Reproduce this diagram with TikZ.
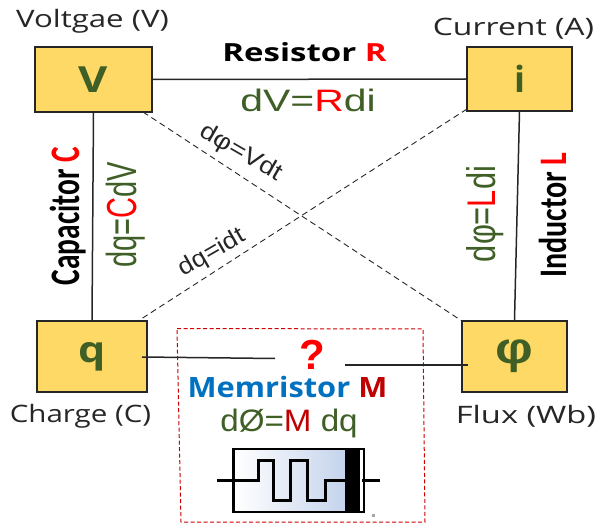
\documentclass[tikz,border=0pt]{standalone}
\usepackage{fontspec}
\setmainfont{Open Sans}
\newfontfamily\lib{Liberation Sans}
\newfontfamily\car{Carlito}
\usetikzlibrary{calc}
\definecolor{boxy}{HTML}{FFD966}
\definecolor{grn}{HTML}{3F5F26}
\definecolor{bluem}{HTML}{0070C0}
\definecolor{redm}{HTML}{C00000}
\definecolor{edge}{HTML}{262626}
\definecolor{peri}{HTML}{C4D3EC}
\newcommand\sx[2]{\scalebox{#1}[1]{#2}}
\tikzset{
  qty/.style={draw=edge,line width=1.3pt,fill=boxy,inner sep=0pt,text=grn,font=\fontsize{36}{36}\selectfont\bfseries},
  wire/.style={draw=edge,line width=1.5pt},
  dash line/.style={draw=edge,line width=0.9pt,dash pattern=on 6pt off 4pt},
  cap label/.style={inner sep=0pt,font=\fontsize{24}{24}\selectfont,text=black!85},
  head/.style={inner sep=0pt,font=\bfseries\fontsize{25}{25}\selectfont},
  law/.style={inner sep=0pt,text=grn,font=\lib\fontsize{31}{31}\selectfont},
  cross/.style={inner sep=0pt,font=\lib\fontsize{24}{24}\selectfont,text=black!85},
  symb/.style={line width=3pt,black,line join=miter}
}
\begin{document}
\begin{tikzpicture}[x=1pt,y=-1pt]
\useasboundingbox (0,0) rectangle (598,524);
% quantity boxes
\node[qty,minimum width=117pt,minimum height=65pt] (V) at (93.5,79.5) {\sx{1.25}{V}};
\node[qty,minimum width=105pt,minimum height=64pt] (i) at (519.5,79) {i};
\node[qty,minimum width=110pt,minimum height=71pt] (q) at (92,356.5) {\raisebox{-9pt}{\sx{1.2}{q}}};
\node[qty,minimum width=105pt,minimum height=71pt] (f) at (514.5,356.5) {\raisebox{-9pt}{\sx{1.2}{\fontsize{44}{44}\selectfont\lib\bfseries φ}}};
% box captions
\node[cap label] (lv) at (92.5,21) {\sx{1.3}{Voltgae (V)}};
\node[cap label] (li) at (513.5,29) {\sx{1.33}{Current (A)}};
\node[cap label] (lq) at (80.5,416) {\sx{1.23}{Charge (C)}};
\node[cap label] (lf) at (526,416) {\sx{1.36}{Flux (Wb)}};
% solid connectors
\draw[wire] (V.east) -- (i.west);
\draw[wire] (V.south) -- (q.north);
\draw[wire] (i.south) -- (f.north);
% dashed connectors
\coordinate (vd) at (143,112);
\coordinate (fd) at (462,321);
\coordinate (id) at (467,109);
\coordinate (qd) at (138,321);
\draw[dash line] (vd) -- (fd);
\draw[dash line] (id) -- (qd);
% dashed memristor frame
\draw[red!80!black,line width=1pt,dash pattern=on 4pt off 2.5pt] (177,328.5) -- (423,329) -- (425,522) -- (181,522) -- cycle;
% memristor links
\node[inner sep=0pt,text=red,font=\lib\bfseries\fontsize{42}{42}\selectfont] (Q) at (312,355) {?};
\coordinate (qin) at (142,357);
\coordinate (qm) at (275,358.5);
\coordinate (fin) at (468,365);
\coordinate (fm) at (345,365);
\draw[wire] (qin) -- (qm);
\draw[wire] (fm) -- (fin);
% element labels
\node[head] (R) at (304.5,52) {\sx{1.32}{Resistor \textcolor{red}{R}}};
\node[law] (rl) at (308,100) {\sx{1.32}{dV=\textcolor{red}{R}di}};
\node[head,rotate=90,font=\car\bfseries\fontsize{42}{42}\selectfont] (C) at (68,216) {\sx{0.70}{Capacitor \textcolor{red}{C}}};
\node[law,rotate=90,font=\lib\fontsize{42}{42}\selectfont] (cl) at (126,214.5) {\sx{0.69}{dq=\textcolor{red}{C}dV}};
\node[head,rotate=90,font=\car\bfseries\fontsize{39}{39}\selectfont] (L) at (553,215) {\sx{0.77}{Inductor \textcolor{red}{L}}};
\node[law,rotate=90,font=\lib\fontsize{40}{40}\selectfont] (ll) at (485,214) {\sx{0.77}{dφ=\textcolor{red}{L}di}};
\node[cross,rotate=-30] (dp) at (241,153) {\sx{1.15}{dφ=Vdt}};
\node[cross,rotate=30] (dq) at (212,253) {\sx{1.1}{dq=idt}};
\node[head,text=bluem,font=\bfseries\fontsize{28}{28}\selectfont] (M) at (287.5,387) {\sx{1.1}{Memristor \textcolor{redm}{M}}};
\node[law,font=\lib\fontsize{31}{31}\selectfont] (ml) at (289,423) {\sx{1.07}{dØ=\textcolor{redm}{M} dq}};
% memristor symbol
\shade[left color=white,right color=peri,shading angle=90] (235,450) rectangle (346,511);
\fill[black] (345,449) rectangle (360,512);
\draw[symb,line width=2.5pt] (233.5,449) rectangle (364,512);
\draw[symb] (217,480) -- (258,480) -- (258,460) -- (273,460) -- (273,500) -- (290,500) -- (290,460) -- (307,460) -- (307,500) -- (325,500) -- (325,480) -- (346,480);
\draw[symb] (362,480) -- (380,480);
\fill[gray!70] (372,514) rectangle (375,517);
\end{tikzpicture}
\end{document}
